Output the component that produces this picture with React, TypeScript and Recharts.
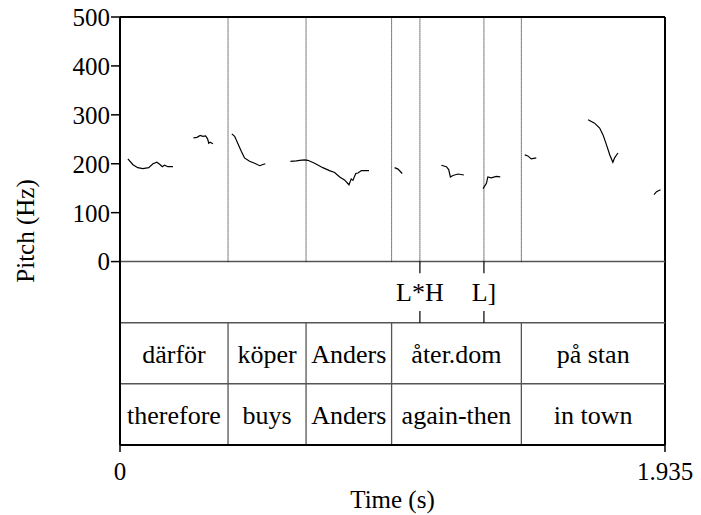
import {
  ComposedChart,
  Line,
  XAxis,
  YAxis,
  ReferenceLine,
  ReferenceArea,
  ReferenceDot,
} from 'recharts';

const FONT = 'Liberation Serif';

// pitch track, one array per voiced stretch (t in s, f in Hz)
const darfor1 = [
  { t: 0.028, f: 210 }, { t: 0.046, f: 198 }, { t: 0.063, f: 192 }, { t: 0.081, f: 190 },
  { t: 0.102, f: 192 }, { t: 0.117, f: 200 }, { t: 0.131, f: 203 }, { t: 0.143, f: 198 },
  { t: 0.15, f: 194 }, { t: 0.158, f: 197 }, { t: 0.17, f: 194 }, { t: 0.188, f: 194 },
];
const darfor2 = [
  { t: 0.261, f: 253 }, { t: 0.273, f: 254 }, { t: 0.285, f: 258 }, { t: 0.294, f: 256 },
  { t: 0.304, f: 257 }, { t: 0.311, f: 251 }, { t: 0.315, f: 242 }, { t: 0.32, f: 244 },
  { t: 0.33, f: 241 },
];
const koper = [
  { t: 0.397, f: 261 }, { t: 0.407, f: 256 }, { t: 0.418, f: 242 }, { t: 0.431, f: 225 },
  { t: 0.442, f: 212 }, { t: 0.46, f: 205 }, { t: 0.478, f: 201 }, { t: 0.496, f: 196 },
  { t: 0.505, f: 198 }, { t: 0.516, f: 200 },
];
const anders = [
  { t: 0.605, f: 205 }, { t: 0.626, f: 206 }, { t: 0.638, f: 207 }, { t: 0.655, f: 208 },
  { t: 0.667, f: 207 }, { t: 0.691, f: 201 }, { t: 0.72, f: 192 }, { t: 0.744, f: 186 },
  { t: 0.762, f: 182 }, { t: 0.78, f: 173 }, { t: 0.797, f: 167 }, { t: 0.813, f: 157 },
  { t: 0.821, f: 169 }, { t: 0.827, f: 166 }, { t: 0.837, f: 180 }, { t: 0.845, f: 181 },
  { t: 0.857, f: 186 }, { t: 0.884, f: 186 },
];
const ater1 = [
  { t: 0.975, f: 192 }, { t: 0.987, f: 189 }, { t: 1.002, f: 180 },
];
const ater2 = [
  { t: 1.141, f: 197 }, { t: 1.159, f: 194 }, { t: 1.167, f: 188 }, { t: 1.173, f: 173 },
  { t: 1.182, f: 176 }, { t: 1.2, f: 179 }, { t: 1.221, f: 177 },
];
const dom = [
  { t: 1.289, f: 149 }, { t: 1.301, f: 160 }, { t: 1.306, f: 173 }, { t: 1.318, f: 171 },
  { t: 1.336, f: 174 }, { t: 1.35, f: 173 },
];
const pa = [
  { t: 1.437, f: 218 }, { t: 1.448, f: 216 }, { t: 1.46, f: 210 }, { t: 1.478, f: 212 },
];
const stan1 = [
  { t: 1.662, f: 290 }, { t: 1.685, f: 283 }, { t: 1.703, f: 273 }, { t: 1.715, f: 259 },
  { t: 1.727, f: 239 }, { t: 1.739, f: 218 }, { t: 1.75, f: 203 }, { t: 1.756, f: 212 },
  { t: 1.768, f: 222 },
];
const stan2 = [
  { t: 1.896, f: 137 }, { t: 1.905, f: 143 }, { t: 1.919, f: 147 },
];
const pitchTracks = [darfor1, darfor2, koper, anders, ater1, ater2, dom, pa, stan1, stan2];

// TextGrid
const wordBounds = [0, 0.3836, 0.6606, 0.9643, 1.425, 1.935];
const words = ['därför', 'köper', 'Anders', 'åter.dom', 'på stan'];
const glosses = ['therefore', 'buys', 'Anders', 'again-then', 'in town'];
const toneTimes = [1.0648, 1.2921];
const toneLabels = ['L*H', 'L]'];

const pitchTicks = [0, 100, 200, 300, 400, 500];
const timeTicks = [0, 1.935];

const TIER = 125; // one tier, in Hz units below 0
const tierLine = '#555';
const txt = { fill: '#000', fontSize: 25, fontFamily: FONT };
const tierTxt = { ...txt, fontSize: 26 };

const App = () => {
  const inner = wordBounds.slice(1, -1);
  return (
    <div style={{ position: 'absolute', left: 0, top: 0, fontFamily: FONT, background: '#fff' }}>
      <ComposedChart width={701} height={515} margin={{ top: 17, right: 36, bottom: 0, left: 0 }}>
        <XAxis
          type="number"
          dataKey="t"
          domain={[0, 1.935]}
          ticks={timeTicks}
          height={70}
          tickSize={7}
          tickMargin={10}
          tick={txt}
          axisLine={{ stroke: '#000', strokeWidth: 2 }}
          tickLine={{ stroke: '#000', strokeWidth: 1.5 }}
          label={{ value: 'Time (s)', position: 'insideBottom', offset: 7, ...txt }}
        />
        <YAxis
          type="number"
          domain={[-3 * TIER, 500]}
          ticks={pitchTicks}
          width={120}
          tickSize={9}
          tickMargin={1}
          tick={txt}
          axisLine={{ stroke: '#000', strokeWidth: 2 }}
          tickLine={{ stroke: '#000', strokeWidth: 1.5 }}
          label={(props: any) => {
            const { x, y, height } = props.viewBox;
            const cx = x + 34;
            const cy = y + height / 2;
            return (
              <text x={cx} y={cy} transform={`rotate(-90, ${cx}, ${cy})`} textAnchor="middle" {...txt}>
                Pitch (Hz)
              </text>
            );
          }}
        />

        {/* frame */}
        <ReferenceLine y={500} stroke="#000" strokeWidth={2} />
        <ReferenceLine x={1.935} stroke="#000" strokeWidth={2} />

        {/* tier dividers */}
        {[0, -TIER, -2 * TIER].map((y) => (
          <ReferenceLine key={y} y={y} stroke={tierLine} strokeWidth={1.5} />
        ))}

        {/* dotted boundaries over the pitch area */}
        {[...inner, ...toneTimes].map((t) => (
          <ReferenceLine
            key={'d' + t}
            segment={[{ x: t, y: 0 }, { x: t, y: 500 }]}
            stroke="#000"
            strokeWidth={1}
            strokeDasharray="1 1"
          />
        ))}

        {/* word / gloss cell borders */}
        {inner.map((t) => (
          <ReferenceLine
            key={'w' + t}
            segment={[{ x: t, y: -TIER }, { x: t, y: -3 * TIER }]}
            stroke={tierLine}
            strokeWidth={1.3}
          />
        ))}

        {/* tone point ticks */}
        {toneTimes.map((t) => [
          <ReferenceLine
            key={'ta' + t}
            segment={[{ x: t, y: 0 }, { x: t, y: -0.19 * TIER }]}
            stroke="#000"
            strokeWidth={1.2}
          />,
          <ReferenceLine
            key={'tb' + t}
            segment={[{ x: t, y: -0.81 * TIER }, { x: t, y: -TIER }]}
            stroke="#000"
            strokeWidth={1.2}
          />,
        ])}
        {toneTimes.map((t, i) => (
          <ReferenceDot
            key={'tl' + t}
            x={t}
            y={-TIER / 2}
            r={0}
            fill="none"
            stroke="none"
            label={{ value: toneLabels[i], position: 'center', ...tierTxt }}
          />
        ))}

        {words.map((w, i) => (
          <ReferenceArea
            key={'wl' + i}
            x1={wordBounds[i]}
            x2={wordBounds[i + 1]}
            y1={-2 * TIER}
            y2={-TIER}
            fill="none"
            stroke="none"
            label={{ value: w, position: 'center', ...tierTxt }}
          />
        ))}
        {glosses.map((g, i) => (
          <ReferenceArea
            key={'gl' + i}
            x1={wordBounds[i]}
            x2={wordBounds[i + 1]}
            y1={-3 * TIER}
            y2={-2 * TIER}
            fill="none"
            stroke="none"
            label={{ value: g, position: 'center', ...tierTxt }}
          />
        ))}

        {pitchTracks.map((seg, i) => (
          <Line
            key={'p' + i}
            data={seg}
            dataKey="f"
            type="linear"
            stroke="#000"
            strokeWidth={1.2}
            dot={false}
            activeDot={false}
            isAnimationActive={false}
          />
        ))}
      </ComposedChart>
    </div>
  );
};

export default App;
